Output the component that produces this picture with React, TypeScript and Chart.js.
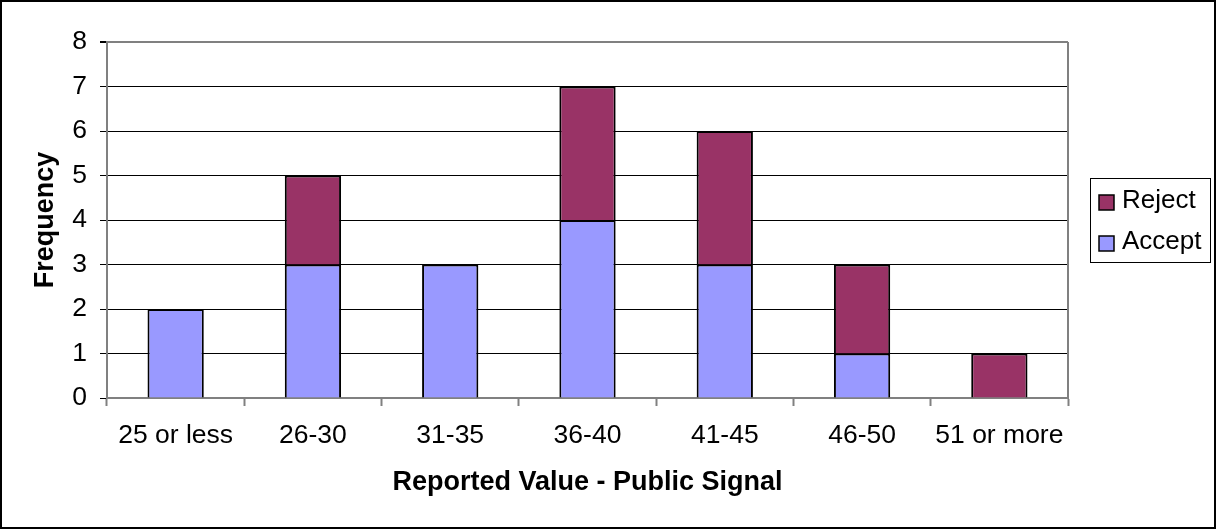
import React, { useEffect, useRef } from "react";
import { Chart, registerables } from "chart.js";

Chart.register(...registerables);

const categories = ["25 or less", "26-30", "31-35", "36-40", "41-45", "46-50", "51 or more"];
const acceptValues = [2, 3, 3, 4, 3, 1, 0];
const rejectValues = [0, 2, 0, 3, 3, 2, 1];
const seriesNames = ["Accept", "Reject"];
const xTitle = "Reported Value - Public Signal";
const yTitle = "Frequency";

const FONT = "'Liberation Sans', Arial, sans-serif";
const ACCEPT_COLOR = "#9999FF";
const REJECT_COLOR = "#993366";

const framePlugin = {
  id: "frame",
  beforeDatasetsDraw(chart: any) {
    const { ctx, chartArea } = chart;
    ctx.save();
    ctx.strokeStyle = "#808080";
    ctx.lineWidth = 2;
    ctx.beginPath();
    ctx.moveTo(chartArea.right, chartArea.top);
    ctx.lineTo(chartArea.right, chartArea.bottom);
    ctx.stroke();
    ctx.restore();
  },
  afterDraw(chart: any) {
    const { ctx } = chart;
    ctx.save();
    // outer border
    ctx.strokeStyle = "#000";
    ctx.lineWidth = 2;
    ctx.strokeRect(1, 1, chart.width - 2, chart.height - 2);
    // legend
    const lx = 1090, ly = 178, lw = 120, lh = 84;
    ctx.lineWidth = 1;
    ctx.strokeRect(lx + 0.5, ly + 0.5, lw, lh);
    const ds = chart.data.datasets.slice().reverse();
    ds.forEach((d: any, i: number) => {
      const cy = 201 + i * 41;
      ctx.fillStyle = d.backgroundColor;
      ctx.fillRect(1099, cy - 6, 15, 15);
      ctx.lineWidth = 1.5;
      ctx.strokeStyle = "#000";
      ctx.strokeRect(1099, cy - 6, 15, 15);
      ctx.fillStyle = "#000";
      ctx.font = `26px ${FONT}`;
      ctx.textBaseline = "middle";
      ctx.textAlign = "left";
      ctx.fillText(d.label, 1122, cy);
    });
    ctx.restore();
  },
};

export default function App() {
  const ref = useRef<HTMLCanvasElement>(null);
  useEffect(() => {
    if (!ref.current) return;
    const chart = new Chart(ref.current, {
      type: "bar",
      data: {
        labels: categories,
        datasets: [
          {
            label: seriesNames[0],
            data: acceptValues,
            backgroundColor: ACCEPT_COLOR,
            borderColor: "#000",
            borderWidth: 2,
            barPercentage: 0.41,
            categoryPercentage: 1,
          },
          {
            label: seriesNames[1],
            data: rejectValues,
            backgroundColor: REJECT_COLOR,
            borderColor: "#000",
            borderWidth: 2,
            barPercentage: 0.41,
            categoryPercentage: 1,
          },
        ],
      },
      options: {
        responsive: false,
        animation: false,
        devicePixelRatio: 1,
        layout: { padding: { left: 0, right: 148, top: 42, bottom: 0 } },
        plugins: {
          legend: { display: false },
          tooltip: { enabled: false },
          title: { display: false },
        },
        scales: {
          x: {
            stacked: true,
            afterFit: (s: any) => { s.height = 131; },
            grid: {
              drawOnChartArea: false,
              drawTicks: true,
              offset: true,
              tickLength: 8,
              tickColor: "#808080",
              tickWidth: 2,
            },
            border: { display: true, color: "#808080", width: 2 },
            ticks: { color: "#000", font: { family: FONT, size: 26.5 }, padding: 14 },
            title: {
              display: true,
              text: xTitle,
              color: "#000",
              font: { family: FONT, size: 27, weight: "bold" },
              padding: { top: 0, bottom: 30 },
            },
          },
          y: {
            stacked: true,
            min: 0,
            max: 8,
            afterFit: (s: any) => { s.width = 107; },
            ticks: { stepSize: 1, color: "#000", font: { family: FONT, size: 26.5 }, padding: 13 },
            grid: {
              color: (c: any) => (c.tick && c.tick.value === 8 ? "#808080" : "#000"),
              lineWidth: (c: any) => (c.tick && c.tick.value === 8 ? 2 : 1),
              tickColor: "#000",
              tickLength: 7,
            },
            border: { display: true, color: "#808080", width: 2 },
            title: {
              display: true,
              text: yTitle,
              color: "#000",
              font: { family: FONT, size: 27, weight: "bold" },
              padding: { top: 29, bottom: 0 },
            },
          },
        },
      },
      plugins: [framePlugin],
    });
    return () => chart.destroy();
  }, []);
  return (
    <div style={{ position: "absolute", left: 0, top: 0, width: 1216, height: 529, background: "#fff" }}>
      <canvas ref={ref} width={1216} height={529} />
    </div>
  );
}
